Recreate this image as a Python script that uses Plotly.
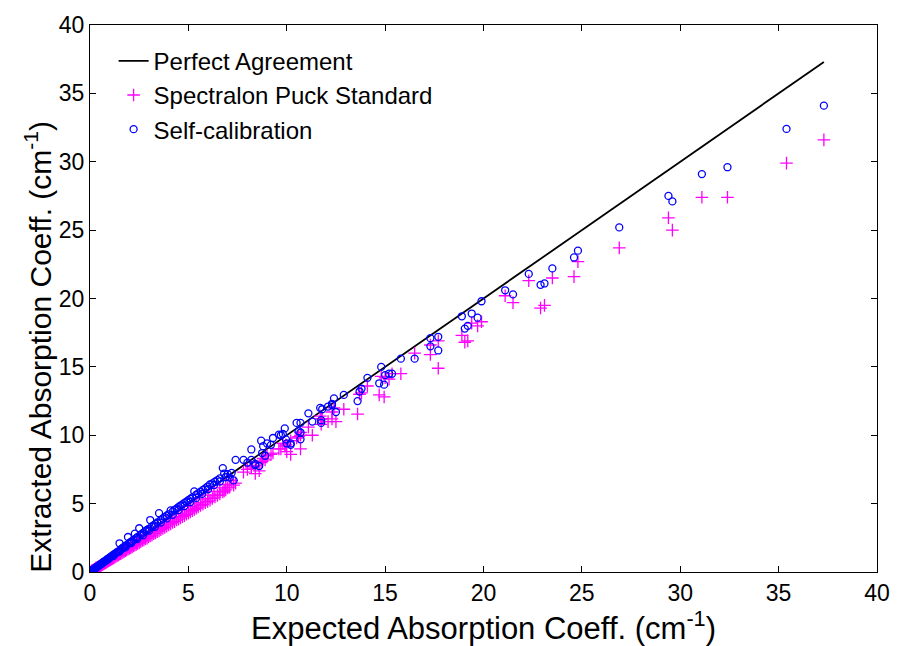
import plotly.graph_objects as go

# Expected absorption coefficient (cm^-1) for each phantom
expected = [
    0.05, 0.08, 0.10, 0.12, 0.15, 0.18, 0.20, 0.23, 0.26, 0.29, 0.32, 0.35, 0.38, 0.42,
    0.45, 0.48, 0.52, 0.55, 0.58, 0.62, 0.66, 0.70, 0.74, 0.78, 0.82, 0.86, 0.90, 0.95,
    1.00, 1.05, 1.10, 1.15, 1.20, 1.26, 1.32, 1.38, 1.44, 1.50, 1.56, 1.62, 1.68, 1.74,
    1.80, 1.86, 1.93, 2.00, 2.07, 2.14, 2.21, 2.28, 2.35, 2.42, 2.50, 2.58, 2.66, 2.74,
    2.82, 2.90, 2.98, 3.06, 3.15, 3.24, 3.33, 3.42, 3.51, 3.60, 3.70, 3.80, 3.90, 4.00,
    4.10, 4.20, 4.30, 4.40, 4.50, 4.60, 4.70, 4.80, 4.90, 5.00, 5.10, 5.20, 5.30, 5.40,
    5.50, 5.62, 5.74, 5.86, 5.98, 6.10, 6.22, 6.35, 6.48, 6.60, 6.75, 6.82, 6.90, 7.00,
    7.10, 7.30, 7.40,
    0.30, 0.60, 0.90, 1.20, 1.50, 1.80, 2.10, 2.40, 2.70, 3.00, 3.30, 3.60, 3.90, 4.20,
    4.50, 4.80, 5.10, 5.40, 5.70, 6.00, 6.30, 6.60, 6.90, 7.20,
    7.80, 8.00, 8.20, 8.20, 8.40, 8.40, 8.60, 8.70, 8.75, 8.80, 8.90, 9.00, 9.20, 9.30,
    9.60, 9.70, 9.80, 9.90, 9.96, 10.00, 10.20, 10.20,
    10.50, 10.60, 10.70, 10.70, 10.70, 11.10, 11.30, 11.75, 11.75, 11.70, 11.80, 12.10,
    12.30, 12.30, 12.40, 12.50, 12.90, 13.60, 13.70, 13.80, 14.10, 14.70, 14.95, 14.80,
    15.00, 15.20, 15.35, 15.80, 16.50, 17.30, 17.70, 17.30, 17.70, 18.90, 19.05, 19.20,
    19.40, 19.70, 19.90, 21.10, 21.50, 22.30, 22.90, 23.10, 23.50, 24.60, 24.80, 26.90,
    29.40, 29.60, 31.10, 32.40, 35.40, 37.30,
]

# Extracted coefficient using the Spectralon puck as reference
spectralon = [
    0.04, 0.07, 0.09, 0.10, 0.13, 0.15, 0.17, 0.20, 0.22, 0.25, 0.28, 0.30, 0.32, 0.36,
    0.39, 0.41, 0.45, 0.47, 0.50, 0.53, 0.57, 0.60, 0.64, 0.67, 0.71, 0.74, 0.78, 0.82,
    0.87, 0.90, 0.95, 0.99, 1.03, 1.09, 1.13, 1.19, 1.24, 1.30, 1.34, 1.40, 1.45, 1.50,
    1.55, 1.61, 1.66, 1.73, 1.78, 1.84, 1.91, 1.96, 2.02, 2.09, 2.12, 2.22, 2.30, 2.35,
    2.43, 2.48, 2.57, 2.63, 2.70, 2.80, 2.85, 2.95, 3.00, 3.10, 3.18, 3.25, 3.35, 3.44,
    3.52, 3.62, 3.68, 3.80, 3.86, 3.96, 4.05, 4.12, 4.22, 4.30, 4.40, 4.48, 4.58, 4.66,
    4.75, 4.86, 4.95, 5.06, 5.15, 5.25, 5.38, 5.48, 5.60, 5.70, 5.85, 5.92, 6.00, 6.15,
    6.20, 6.35, 6.50,
    0.29, 0.57, 0.86, 1.14, 1.43, 1.70, 1.98, 2.27, 2.55, 2.84, 3.12, 3.40, 3.68, 3.98,
    4.25, 4.52, 4.80, 5.05, 5.35, 5.62, 5.90, 6.15, 6.40, 6.70,
    7.30, 7.50, 7.60, 7.70, 7.20, 7.80, 7.40, 8.00, 8.10, 8.30, 8.20, 8.50, 8.60, 8.70,
    9.00, 9.00, 9.40, 9.20, 9.30, 8.80, 8.60, 9.60,
    9.80, 9.90, 9.00, 10.00, 10.20, 10.60, 10.00, 10.80, 11.20, 11.40, 11.20, 11.00,
    11.20, 11.70, 12.00, 11.00, 11.90, 11.55, 13.00, 13.10, 13.60, 12.95, 12.80, 14.30,
    14.20, 14.10, 14.50, 14.50, 16.00, 15.90, 14.90, 16.60, 16.90, 17.30, 16.80, 16.90,
    18.20, 18.00, 18.30, 20.20, 19.70, 21.30, 19.30, 19.50, 21.50, 21.60, 22.70, 23.70,
    25.90, 25.00, 27.40, 27.40, 29.90, 31.60,
]

# Extracted coefficient using the self-calibration method
self_cal = [
    0.05, 0.08, 0.11, 0.12, 0.16, 0.19, 0.21, 0.24, 0.27, 0.31, 0.33, 0.37, 0.40, 0.44,
    0.47, 0.51, 0.54, 0.58, 0.61, 0.65, 0.70, 0.73, 0.78, 0.82, 0.86, 0.91, 0.95, 1.00,
    1.05, 1.10, 1.16, 1.21, 1.27, 1.33, 1.38, 1.46, 1.51, 2.10, 1.64, 1.72, 1.77, 1.85,
    1.90, 1.97, 2.56, 2.12, 2.20, 2.26, 2.35, 2.80, 2.48, 2.57, 3.20, 2.73, 2.82, 2.90,
    3.00, 3.07, 3.15, 3.80, 3.34, 3.42, 3.52, 3.62, 4.30, 3.80, 3.92, 4.02, 4.12, 4.22,
    4.50, 4.42, 4.55, 4.63, 4.75, 4.86, 4.95, 5.05, 5.15, 5.25, 5.35, 5.45, 5.90, 5.65,
    5.75, 5.87, 6.00, 6.12, 6.25, 6.40, 6.48, 6.60, 6.72, 6.85, 7.60, 7.20, 6.95, 7.15,
    6.90, 6.70, 8.20,
    0.30, 0.60, 0.91, 1.19, 1.49, 1.80, 2.12, 2.41, 2.68, 3.02, 3.31, 3.62, 3.92, 4.18,
    4.52, 4.82, 5.12, 5.42, 5.72, 6.05, 6.35, 6.62, 6.92, 7.25,
    8.20, 8.00, 8.20, 8.96, 7.90, 7.80, 7.75, 9.60, 8.70, 9.20, 8.50, 9.40, 9.30, 9.80,
    10.05, 10.00, 10.10, 10.50, 9.70, 9.40, 9.30, 9.40,
    10.90, 10.30, 10.90, 10.20, 9.70, 11.60, 11.00, 11.10, 10.90, 12.00, 11.90, 12.10,
    12.20, 12.30, 12.70, 11.70, 12.95, 12.50, 13.20, 13.40, 14.20, 13.80, 13.70, 15.00,
    14.40, 14.50, 14.50, 15.60, 15.60, 16.50, 16.20, 17.10, 17.20, 18.70, 17.80, 18.00,
    18.90, 18.60, 19.80, 20.60, 20.30, 21.80, 21.00, 21.10, 22.20, 23.00, 23.50, 25.20,
    27.50, 27.10, 29.10, 29.60, 32.40, 34.10,
]

# Identity line spanning the measured range
agreement_x = [0, max(expected)]
agreement_y = [0, max(expected)]

font_family = "Liberation Sans, Arial, Helvetica, sans-serif"

fig = go.Figure()

fig.add_trace(go.Scatter(
    x=agreement_x, y=agreement_y, mode="lines",
    name="Perfect Agreement", legendgroup="a",
    line=dict(color="black", width=1.8),
))
fig.add_trace(go.Scatter(
    x=expected, y=spectralon, mode="markers",
    name="Spectralon Puck Standard", legendgroup="b",
    marker=dict(symbol="cross-thin-open", size=9,
                line=dict(color="#ff00ff", width=1.3), color="#ff00ff"),
))
fig.add_trace(go.Scatter(
    x=expected, y=self_cal, mode="markers",
    name="Self-calibration", legendgroup="c",
    marker=dict(symbol="circle-open", size=7,
                line=dict(color="#0000ff", width=1.3), color="#0000ff"),
))

axis_common = dict(
    range=[0, 40], dtick=5, tick0=0,
    showgrid=False, zeroline=False,
    showline=True, linecolor="black", linewidth=1, mirror="ticks",
    ticks="inside", ticklen=6, tickcolor="black", tickwidth=1,
    tickfont=dict(family=font_family, size=23, color="black"),
)

fig.update_layout(
    width=902, height=646,
    margin=dict(l=90, r=20, t=20, b=74),
    paper_bgcolor="white", plot_bgcolor="white",
    font=dict(family=font_family, color="black"),
    xaxis=dict(**axis_common),
    yaxis=dict(**axis_common),
    legend=dict(
        x=0.03, y=0.975, xanchor="left", yanchor="top",
        bgcolor="rgba(0,0,0,0)", borderwidth=0,
        font=dict(family=font_family, size=24, color="black"),
        tracegroupgap=0, itemwidth=30,
    ),
    showlegend=True,
)

# Axis titles
fig.add_annotation(
    text="Expected Absorption Coeff. (cm<sup>-1</sup>)",
    xref="paper", yref="paper", x=0.5, y=-0.098,
    xanchor="center", yanchor="middle", showarrow=False,
    font=dict(family=font_family, size=31, color="black"),
)
fig.add_annotation(
    text="Extracted Absorption Coeff. (cm<sup>-1</sup>)",
    xref="paper", yref="paper", x=-0.066, y=0.412,
    xanchor="center", yanchor="middle", textangle=-90, showarrow=False,
    font=dict(family=font_family, size=30, color="black"),
)

fig.write_html("out.html")
